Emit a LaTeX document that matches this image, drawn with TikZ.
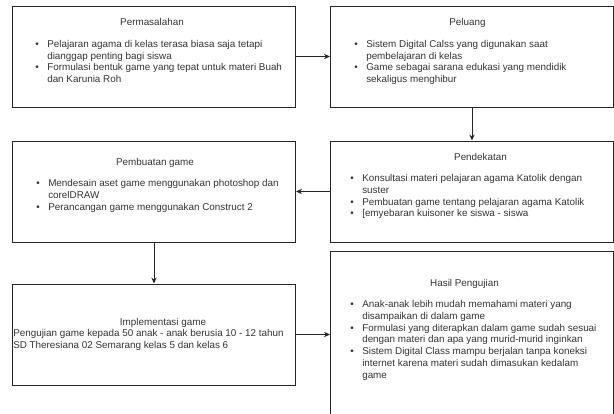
\documentclass[tikz,border=0pt]{standalone}
\usepackage{fontspec}
\setmainfont{Liberation Sans}
\usetikzlibrary{positioning,arrows.meta,calc}
\newcommand{\itm}{\strut\makebox[9pt][l]{\textbullet}}
\newcommand{\cnt}{\strut\hspace*{9pt}}

\begin{document}
\begin{tikzpicture}[
    x=0.75pt, y=-0.75pt,
    node distance=24.75pt and 25.5pt,
    box/.style={rectangle, draw=black!85, line width=0.75pt, minimum width=212.25pt, minimum height=75.75pt, inner sep=0pt},
    heading/.style={font=\fontsize{7.4}{8.8}\selectfont, text=black!80, inner sep=0pt, anchor=base},
    bullets/.style={font=\fontsize{7.4}{8.8}\selectfont, text=black!80, inner sep=0pt, align=left, anchor=north west},
    arrow/.style={-{Stealth[length=4.5pt,width=4pt]}, line width=0.75pt, draw=black!85}
]
\useasboundingbox (0,0) rectangle (614,414);

\node[box] (perm) at (154,56.5) {};
\node[box, right=of perm] (pel) {};
\node[box, below=of pel] (pend) {};
\node[box, left=of pend] (pemb) {};
\node[box, below=30.75pt of pemb] (impl) {};
\node[box, below=6pt of pend, minimum height=135.75pt] (hasil) {};

\node[heading] (permh) at ($(perm.north)+(-2,20.5)$) {Permasalahan};
\node[bullets] (perml) at ($(permh.base -| perm.west)+(23,13)$) {%
\itm Pelajaran agama di kelas terasa biasa saja tetapi\\
\cnt dianggap penting bagi siswa\\
\itm Formulasi bentuk game yang tepat untuk materi Buah\\
\cnt dan Karunia Roh};

\node[heading] (pelh) at ($(pel.north)+(-4.5,20.5)$) {Peluang};
\node[bullets] (pell) at ($(pelh.base -| pel.west)+(24,13)$) {%
\itm Sistem Digital Calss yang digunakan saat\\
\cnt pembelajaran di kelas\\
\itm Game sebagai sarana edukasi yang mendidik\\
\cnt sekaligus menghibur};

\node[heading] (pendh) at ($(pend.north)+(8.5,19.7)$) {Pendekatan};
\node[bullets] (pendl) at ($(pendh.base -| pend.west)+(20,13)$) {%
\itm Konsultasi materi pelajaran agama Katolik dengan\\
\cnt suster\\
\itm Pembuatan game tentang pelajaran agama Katolik\\
\itm [emyebaran kuisoner ke siswa - siswa};

\node[heading] (pembh) at ($(pemb.north)+(1,24.7)$) {Pembuatan game};
\node[bullets] (pembl) at ($(pembh.base -| pemb.west)+(24,13)$) {%
\itm Mendesain aset game menggunakan photoshop dan\\
\cnt corelDRAW\\
\itm Perancangan game menggunakan Construct 2};

\node[heading] (implh) at ($(impl.north)+(9,41.7)$) {Implementasi game};
\node[bullets] (impll) at ($(implh.base -| impl.west)+(1,3)$) {%
\strut Pengujian game kepada 50 anak - anak berusia 10 - 12 tahun\\
\strut SD Theresiana 02 Semarang kelas 5 dan kelas 6};

\node[heading] (hasilh) at ($(hasil.north)+(-7.5,35.7)$) {Hasil Pengujian};
\node[bullets] (hasill) at ($(hasilh.base -| hasil.west)+(20,13)$) {%
\itm Anak-anak lebih mudah memahami materi yang\\
\cnt disampaikan di dalam game\\
\itm Formulasi yang diterapkan dalam game sudah sesuai\\
\cnt dengan materi dan apa yang murid-murid inginkan\\
\itm Sistem Digital Class mampu berjalan tanpa koneksi\\
\cnt internet karena materi sudah dimasukan kedalam\\
\cnt game};

\draw[arrow] (perm) -- (pel);
\draw[arrow] (pel) -- (pend);
\draw[arrow] (pend) -- (pemb);
\draw[arrow] (pemb) -- (impl);
\draw[arrow] (impl.east) -- (impl.east -| hasil.west);
\end{tikzpicture}
\end{document}
